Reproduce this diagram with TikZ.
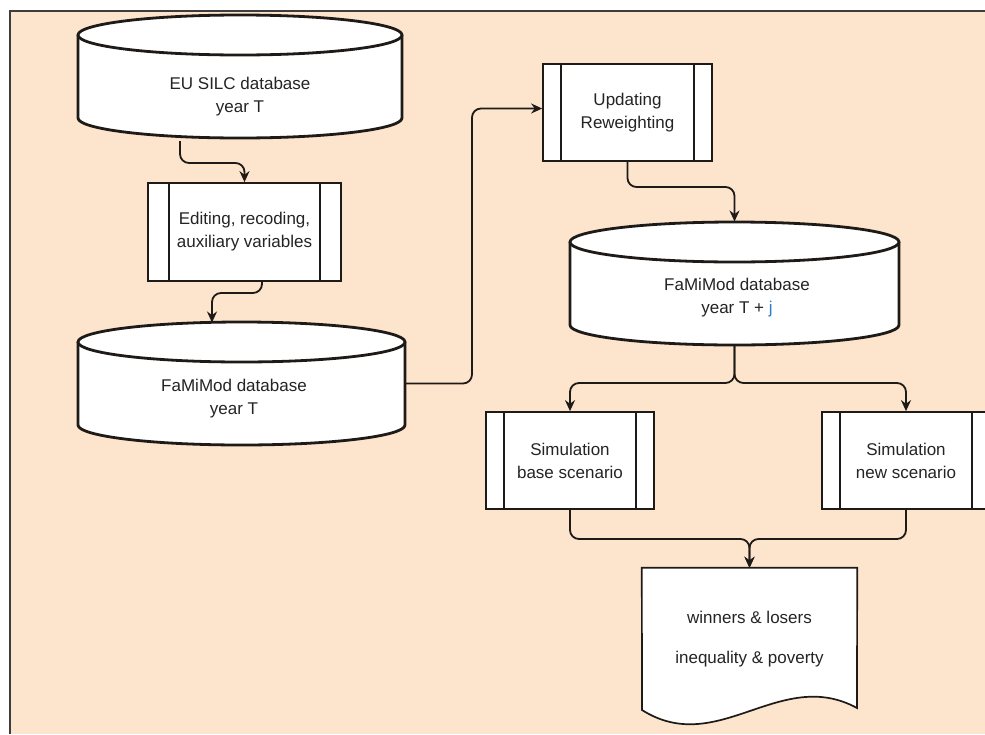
\documentclass[tikz,border=0pt]{standalone}
\usepackage{fontspec}
\setmainfont{Liberation Sans}
\usetikzlibrary{arrows.meta,calc}
\definecolor{bg}{RGB}{253,228,204}
\definecolor{ln}{RGB}{30,26,24}
\definecolor{tx}{RGB}{36,36,36}
\definecolor{jblue}{RGB}{45,125,195}
\begin{document}
\begin{tikzpicture}[x=1pt,y=-1pt,
  font=\fontsize{17}{23}\selectfont, text=tx,
  proc/.style={draw=ln, fill=white, line width=1.7pt, inner sep=0pt, align=center,
    path picture={
      \draw[ln,line width=1.7pt] ([xshift=#1]path picture bounding box.north west) -- ([xshift=#1]path picture bounding box.south west);
      \draw[ln,line width=1.7pt] ([xshift=-#1]path picture bounding box.north east) -- ([xshift=-#1]path picture bounding box.south east);}},
  proc/.default=18pt,
  cyl/.style={draw=ln, fill=white, line width=2.8pt},
  docsty/.style={draw=ln, fill=white, line width=1.7pt},
  conn/.style={draw=ln, line width=1.8pt, rounded corners=9pt, -{Stealth[length=11pt,width=10pt]}},
  lbl/.style={align=center, inner sep=0pt}]
\useasboundingbox (0,0) rectangle (985,734);
\fill[white] (0,0) rectangle (985,734);
\fill[bg] (10,11) rectangle (985,734);
\draw[line width=2pt, ln!85] (10,734) -- (10,11) -- (985,11);

% cylinder 1: EU SILC
\draw[cyl] (78,35) -- (78,118) arc[start angle=180,end angle=0,x radius=162,y radius=20] -- (402,35);
\draw[cyl] (240,35) ellipse[x radius=162, y radius=20];
\node[lbl] (eu) at (240,96.5) {EU SILC database\\year T};
\coordinate (eub) at (180,141);

% cylinder 2: FaMiMod year T
\draw[cyl] (78,342) -- (78,425) arc[start angle=180,end angle=0,x radius=163.5,y radius=20] -- (405,342);
\draw[cyl] (241.5,342) ellipse[x radius=163.5, y radius=20];
\node[lbl] (fam) at (234,398.5) {FaMiMod database\\year T};
\coordinate (famt) at (212,322.5);
\coordinate (famr) at (405,383.5);

% cylinder 3: FaMiMod year T+j
\draw[cyl] (570,242) -- (570,325) arc[start angle=180,end angle=0,x radius=164.5,y radius=20] -- (899,242);
\draw[cyl] (734.5,242) ellipse[x radius=164.5, y radius=20];
\node[lbl] (famj) at (737,297.5) {FaMiMod database\\year T + \textcolor{jblue}{j}};
\coordinate (fjt) at (734.5,221.5);
\coordinate (fjb) at (734.5,345);

% process boxes
\node[proc=21pt, minimum width=193pt, minimum height=98pt] (edit) at (244.5,232) {Editing, recoding,\\auxiliary variables};
\node[proc, minimum width=169pt, minimum height=97pt] (upd) at (627.5,112.5) {Updating\\Reweighting};
\node[proc, minimum width=168pt, minimum height=97pt] (base) at (570,460.5) {Simulation\\base scenario};
\node[proc, minimum width=168pt, minimum height=97pt] (new) at (906,460.5) {Simulation\\new scenario};

% document
\node[minimum width=215pt, minimum height=142pt, inner sep=0pt] (doc) at (749.5,639) {};
\draw[docsty] (doc.north west) -- (doc.north east) -- (857,708) .. controls (780,666) and (718,758) .. (642,710) -- cycle;
\node[lbl] (doctext) at (doc.center) {winners \& losers\\[17pt]inequality \& poverty};

% helper coordinates
\coordinate (k1) at (200,163);
\coordinate (k2) at (240,293);
\coordinate (k3) at (472,200);
\coordinate (k4) at (680,187);
\coordinate (k5) at (650,383);
\coordinate (k6) at (820,383);
\coordinate (k7) at (660,539);
\coordinate (k8) at (830,539);

% connectors
\draw[conn] (eub) |- (k1) -| (edit.north);
\draw[conn] ([xshift=17.5pt]edit.south) |- (k2) -| (famt);
\draw[conn] (famr) -| (k3) |- ([yshift=4pt]upd.west);
\draw[conn] (upd.south) |- (k4) -| (fjt);
\draw[conn] (fjb) |- (k5) -| (base.north);
\draw[conn] (fjb) |- (k6) -| (new.north);
\draw[conn] (base.south) |- (k7) -| (doc.north);
\draw[conn] (new.south) |- (k8) -| (doc.north);
\end{tikzpicture}
\end{document}
